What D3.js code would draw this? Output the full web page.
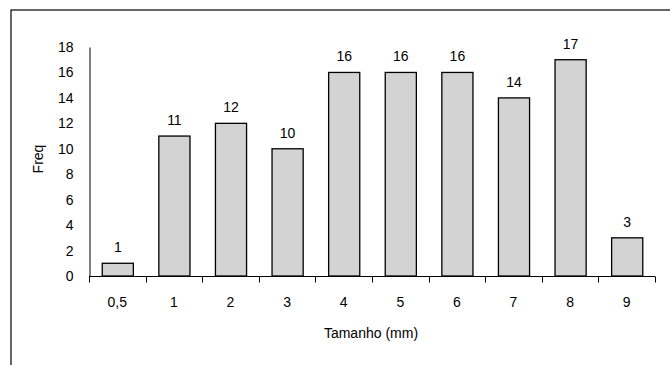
<!DOCTYPE html>
<html><head><meta charset="utf-8">
<script src="https://cdn.jsdelivr.net/npm/d3@7"></script>
<style>body{margin:0;background:#fff}svg{display:block}text{font-family:"Liberation Sans",Arial,sans-serif;font-size:14px;fill:#000}</style>
</head><body><svg id="c" width="670" height="365"></svg>
<script>
const categories = ["0,5","1","2","3","4","5","6","7","8","9"];
const freq = [1,11,12,10,16,16,16,14,17,3];
const yTicks = [0,2,4,6,8,10,12,14,16,18];

const svg = d3.select("#c");
svg.append("rect").attr("x",11).attr("y",10).attr("width",700).attr("height",400)
  .attr("fill","#fff").attr("stroke","#000").attr("stroke-width",1.2);

const x = d3.scaleBand().domain(categories).range([89,655]).paddingInner(0.45).paddingOuter(0.225);
const xb = d3.scaleBand().domain(categories).range([89,655]);
const y = d3.scaleLinear().domain([0,18]).range([276,47]);

// bars
svg.selectAll(".bar").data(freq).enter().append("rect")
  .attr("x",(d,i)=>x(categories[i])+0.5).attr("width",x.bandwidth())
  .attr("y",d=>y(d)).attr("height",d=>y(0)-y(d))
  .attr("fill","#d3d3d3").attr("stroke","#000").attr("stroke-width",1.3);

// labels
svg.selectAll(".lbl").data(freq).enter().append("text")
  .attr("x",(d,i)=>x(categories[i])+x.bandwidth()/2+0.5).attr("y",d=>y(d)-11)
  .attr("text-anchor","middle").text(d=>d);

// y axis
const ya = svg.append("g").attr("transform","translate(89.5,0)")
  .call(d3.axisLeft(y).tickValues(yTicks).tickSize(0).tickPadding(16));
ya.select(".domain").attr("stroke","#000");
ya.selectAll("text").style("font-size","14px").style("font-family","Liberation Sans, Arial, sans-serif");

// x axis
const xa = svg.append("g").attr("transform","translate(0,276.5)");
xa.append("line").attr("x1",89).attr("x2",655).attr("stroke","#000");
const tickPos = categories.map(c=>xb(c)).concat([655]);
xa.selectAll(".tk").data(tickPos).enter().append("line")
  .attr("x1",d=>Math.round(d)+0.5).attr("x2",d=>Math.round(d)+0.5).attr("y1",0).attr("y2",6).attr("stroke","#000");
xa.selectAll(".tl").data(categories).enter().append("text")
  .attr("x",d=>xb(d)+xb.bandwidth()/2).attr("y",30.5).attr("text-anchor","middle").text(d=>d);

svg.append("text").attr("x",371).attr("y",338).attr("text-anchor","middle").text("Tamanho (mm)");
svg.append("text").attr("transform","translate(43,159) rotate(-90)").attr("text-anchor","middle").text("Freq");
</script></body></html>
